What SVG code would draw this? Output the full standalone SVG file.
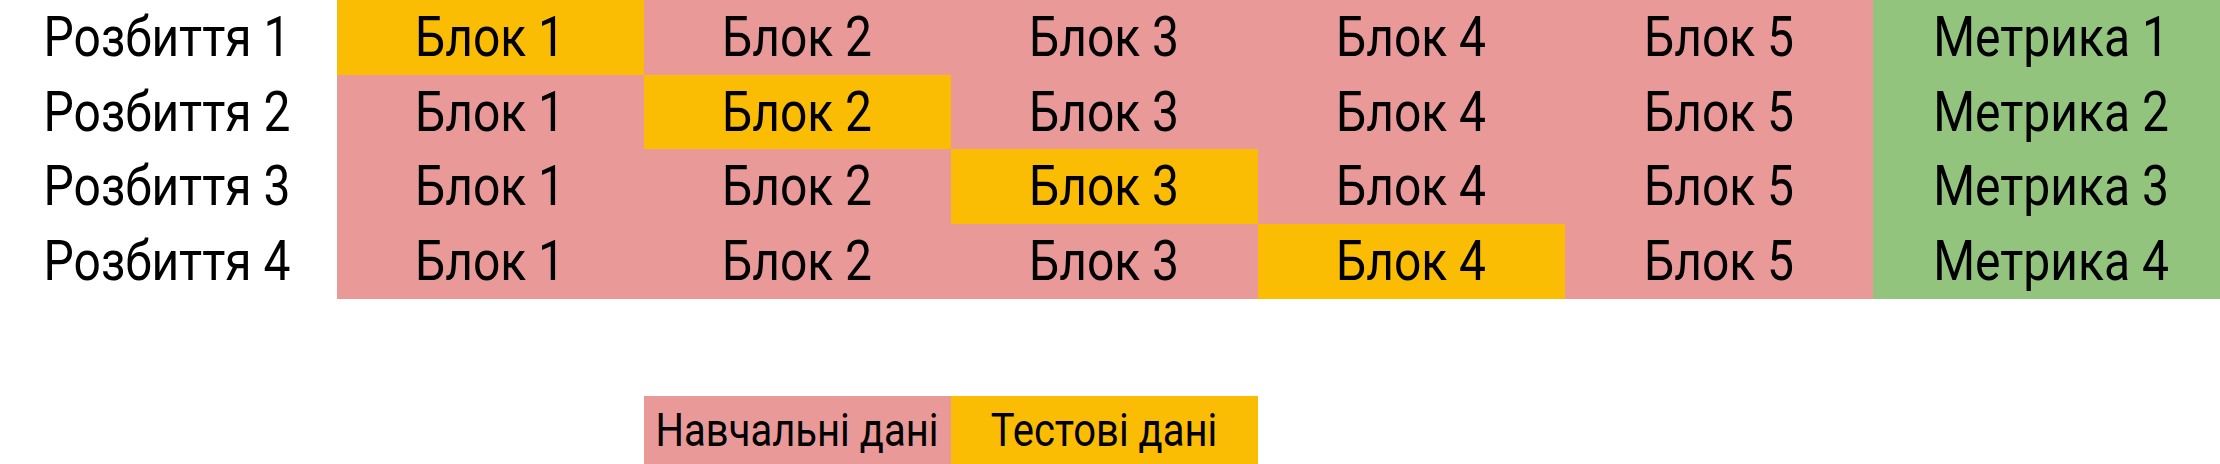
<svg xmlns="http://www.w3.org/2000/svg" width="2220" height="464" viewBox="0 0 2220 464">
<style>
.t{font-family:Roboto,"Liberation Sans",sans-serif;font-size:48px;fill:#000;text-anchor:middle;dominant-baseline:central}
.l{font-size:40px}
.p{fill:#EA9999}.y{fill:#FBBC04}.g{fill:#93C47D}
</style>
<rect width="2220" height="464" fill="#fff"/>
<g id="row1">
<text class="t" transform="matrix(1 0 0 1.14 167 37)">Розбиття 1</text>
<rect class="y" x="337" y="0" width="307" height="75"/><text class="t" transform="matrix(1 0 0 1.14 490 37)">Блок 1</text>
<rect class="p" x="644" y="0" width="307" height="75"/><text class="t" transform="matrix(1 0 0 1.14 797 37)">Блок 2</text>
<rect class="p" x="951" y="0" width="307" height="75"/><text class="t" transform="matrix(1 0 0 1.14 1104 37)">Блок 3</text>
<rect class="p" x="1258" y="0" width="307" height="75"/><text class="t" transform="matrix(1 0 0 1.14 1411 37)">Блок 4</text>
<rect class="p" x="1565" y="0" width="308" height="75"/><text class="t" transform="matrix(1 0 0 1.14 1719 37)">Блок 5</text>
<rect class="g" x="1873" y="0" width="347" height="75"/><text class="t" transform="matrix(1 0 0 1.14 2051 37)">Метрика 1</text>
</g>
<g id="row2">
<text class="t" transform="matrix(1 0 0 1.14 167 112)">Розбиття 2</text>
<rect class="p" x="337" y="75" width="307" height="75"/><text class="t" transform="matrix(1 0 0 1.14 490 112)">Блок 1</text>
<rect class="y" x="644" y="75" width="307" height="75"/><text class="t" transform="matrix(1 0 0 1.14 797 112)">Блок 2</text>
<rect class="p" x="951" y="75" width="307" height="75"/><text class="t" transform="matrix(1 0 0 1.14 1104 112)">Блок 3</text>
<rect class="p" x="1258" y="75" width="307" height="75"/><text class="t" transform="matrix(1 0 0 1.14 1411 112)">Блок 4</text>
<rect class="p" x="1565" y="75" width="308" height="75"/><text class="t" transform="matrix(1 0 0 1.14 1719 112)">Блок 5</text>
<rect class="g" x="1873" y="75" width="347" height="75"/><text class="t" transform="matrix(1 0 0 1.14 2051 112)">Метрика 2</text>
</g>
<g id="row3">
<text class="t" transform="matrix(1 0 0 1.14 167 186)">Розбиття 3</text>
<rect class="p" x="337" y="149" width="307" height="75"/><text class="t" transform="matrix(1 0 0 1.14 490 186)">Блок 1</text>
<rect class="p" x="644" y="149" width="307" height="75"/><text class="t" transform="matrix(1 0 0 1.14 797 186)">Блок 2</text>
<rect class="y" x="951" y="149" width="307" height="75"/><text class="t" transform="matrix(1 0 0 1.14 1104 186)">Блок 3</text>
<rect class="p" x="1258" y="149" width="307" height="75"/><text class="t" transform="matrix(1 0 0 1.14 1411 186)">Блок 4</text>
<rect class="p" x="1565" y="149" width="308" height="75"/><text class="t" transform="matrix(1 0 0 1.14 1719 186)">Блок 5</text>
<rect class="g" x="1873" y="149" width="347" height="75"/><text class="t" transform="matrix(1 0 0 1.14 2051 186)">Метрика 3</text>
</g>
<g id="row4">
<text class="t" transform="matrix(1 0 0 1.14 167 261)">Розбиття 4</text>
<rect class="p" x="337" y="224" width="307" height="75"/><text class="t" transform="matrix(1 0 0 1.14 490 261)">Блок 1</text>
<rect class="p" x="644" y="224" width="307" height="75"/><text class="t" transform="matrix(1 0 0 1.14 797 261)">Блок 2</text>
<rect class="p" x="951" y="224" width="307" height="75"/><text class="t" transform="matrix(1 0 0 1.14 1104 261)">Блок 3</text>
<rect class="y" x="1258" y="224" width="307" height="75"/><text class="t" transform="matrix(1 0 0 1.14 1411 261)">Блок 4</text>
<rect class="p" x="1565" y="224" width="308" height="75"/><text class="t" transform="matrix(1 0 0 1.14 1719 261)">Блок 5</text>
<rect class="g" x="1873" y="224" width="347" height="75"/><text class="t" transform="matrix(1 0 0 1.14 2051 261)">Метрика 4</text>
</g>
<g id="legend">
<rect class="p" x="644" y="396" width="307" height="68"/><text class="t l" transform="matrix(1 0 0 1.14 797 430)">Навчальні дані</text>
<rect class="y" x="951" y="396" width="307" height="68"/><text class="t l" transform="matrix(1 0 0 1.14 1104 430)">Тестові дані</text>
</g>
<g id="connectors"/>
</svg>
